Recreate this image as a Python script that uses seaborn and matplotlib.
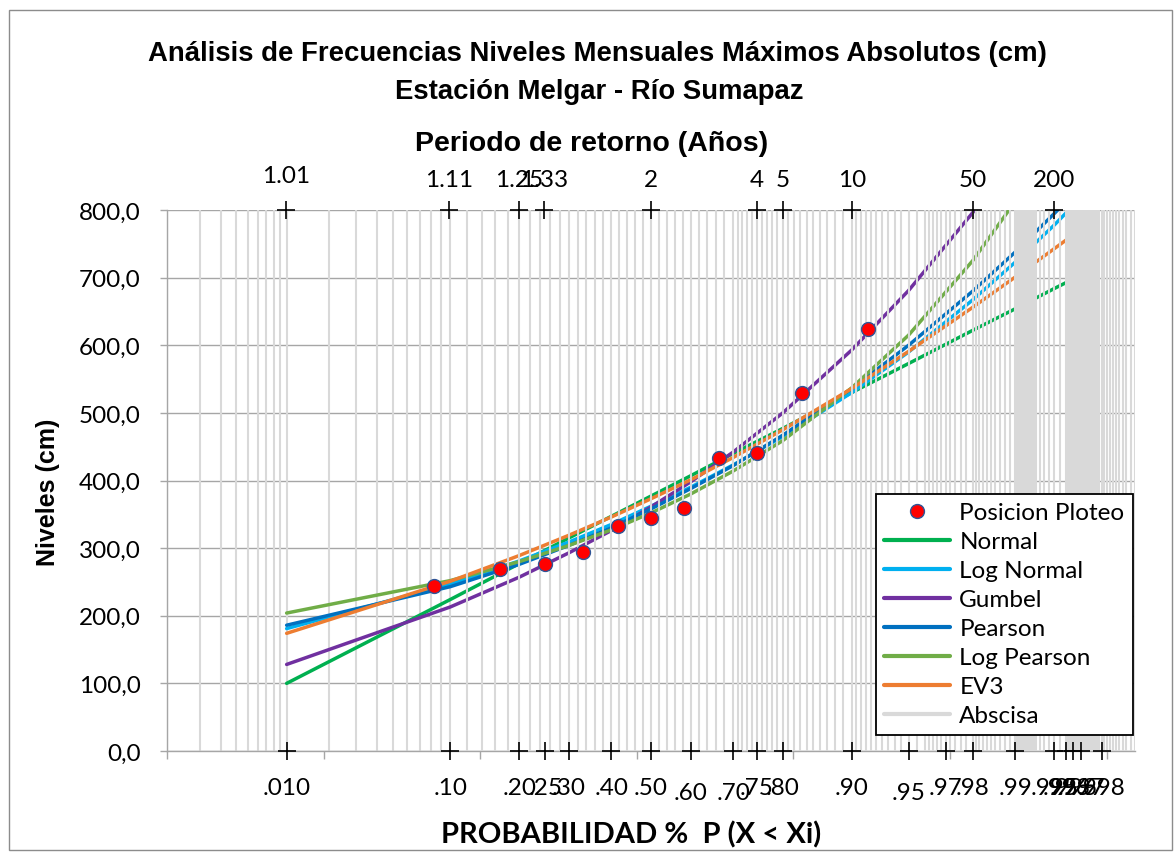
import numpy as np
import matplotlib
matplotlib.use("Agg")
import matplotlib.pyplot as plt
import seaborn as sns
from statistics import NormalDist
from matplotlib.lines import Line2D
from matplotlib.patches import Rectangle

# ---- data ----
# non-exceedance probabilities where the fitted curves were read
curve_p = [0.01, 0.1, 0.2, 0.3, 0.4, 0.5, 0.6, 0.7, 0.8, 0.9, 0.95, 0.98, 0.99, 0.995, 0.997]
normal = [100, 224, 277, 315, 347, 377, 407, 440, 477, 530, 573, 622, 654, 684, 704]
log_normal = [181, 247, 281, 309, 335, 362, 390, 423, 465, 530, 590, 667, 723, 778, 819]
gumbel = [128, 213, 257, 293, 326, 361, 398, 442, 500, 593, 681, 796, 882, 967, 1030]
pearson = [186, 243, 276, 304, 330, 358, 388, 422, 467, 536, 600, 680, 738, 795, 836]
log_pearson = [204, 252, 280, 304, 327, 352, 380, 414, 459, 537, 615, 725, 813, 906, 979]
ev3 = [174, 251, 289, 319, 346, 373, 401, 434, 475, 536, 591, 656, 701, 743, 772]

# plotting positions (Weibull) and observed levels
obs_p = [0.083, 0.167, 0.25, 0.333, 0.417, 0.5, 0.583, 0.667, 0.75, 0.833, 0.917]
obs_level = [244, 269, 277, 295, 333, 345, 359, 433, 441, 530, 624]

# return periods on the top axis
return_periods = [1.01, 1.11, 1.25, 1.33, 2, 4, 5, 10, 50, 200]
return_labels = ["1.01", "1.11", "1.25", "1.33", "2", "4", "5", "10", "50", "200"]

# probability labels on the bottom axis
prob_marks = [0.01, 0.10, 0.20, 0.25, 0.30, 0.40, 0.50, 0.60, 0.70, 0.75, 0.80,
              0.90, 0.95, 0.97, 0.98, 0.99, 0.995, 0.996, 0.9965, 0.997, 0.998]
prob_labels = [".010", ".10", ".20", ".25", ".30", ".40", ".50", ".60", ".70", ".75", ".80",
               ".90", ".95", ".97", ".98", ".99", ".995", ".996", ".996", ".997", ".998"]

# "Abscisa" vertical lines: (start, stop, step) ranges of probability
abscisa_low = [(0.001, 0.010, 0.001), (0.02, 0.10, 0.01)]
abscisa_high = [(0.12, 0.70, 0.02), (0.71, 0.90, 0.01), (0.905, 0.96, 0.005),
                (0.962, 0.98, 0.002), (0.981, 0.99, 0.001), (0.99025, 0.993, 0.00025),
                (0.9935, 0.996, 0.0005), (0.9961, 0.999, 0.0001)]

COLORS = {
    "Normal": "#00B050",
    "Log Normal": "#00B0F0",
    "Gumbel": "#7030A0",
    "Pearson": "#0070C0",
    "Log Pearson": "#70AD47",
    "EV3": "#ED7D31",
    "Abscisa": "#D9D9D9",
}
series = [("Normal", normal), ("Log Normal", log_normal), ("Gumbel", gumbel),
          ("Pearson", pearson), ("Log Pearson", log_pearson), ("EV3", ev3)]

W, H = 1174, 853


def fx(px):
    return px / W


def fy(py):
    return 1 - py / H


def ranges(spec):
    out = []
    for a, b, s in spec:
        n = int(round((b - a) / s))
        out.extend(a + s * np.arange(n + 1))
    return np.array(out)


nd = NormalDist()


def prob_fwd(p):
    p = np.clip(np.asarray(p, dtype=float), 1e-9, 1 - 1e-9)
    return np.array([nd.inv_cdf(v) if np.isfinite(v) else np.nan for v in p.ravel()]).reshape(p.shape)


def prob_inv(z):
    z = np.asarray(z, dtype=float)
    return np.array([nd.cdf(v) if np.isfinite(v) else np.nan for v in z.ravel()]).reshape(z.shape)


sns.set_theme(style="white")
plt.rcParams["font.family"] = ["Lato", "DejaVu Sans"]
plt.rcParams["text.color"] = "black"
plt.rcParams["ytick.color"] = "black"

fig = plt.figure(figsize=(W / 100, H / 100), dpi=100)
ax = fig.add_axes([fx(167), fy(752), fx(1135) - fx(167), fy(211) - fy(752)])
ax.set_xscale("function", functions=(prob_fwd, prob_inv))

# fitted curves
for name, vals in series:
    sns.lineplot(x=curve_p, y=vals, ax=ax, color=COLORS[name], lw=2.5,
                 sort=False, estimator=None, zorder=2)

# abscisa lines: the low ones sit under the curves, the rest over them
ax.vlines(ranges(abscisa_low), 0, 800, color=COLORS["Abscisa"], lw=1.5, zorder=1)
ax.vlines(ranges(abscisa_high), 0, 800, color=COLORS["Abscisa"], lw=1.5, zorder=3)

# observed points
sns.scatterplot(x=obs_p, y=obs_level, ax=ax, color="#FF0000", edgecolor="#2F5597",
                linewidth=1.0, s=100, zorder=5)

# return period markers (top) and probability markers (bottom)
top_p = [1 - 1 / t for t in return_periods]
ax.plot(top_p, [800] * len(top_p), "+", color="black", ms=13, mew=1.2, clip_on=False, zorder=6)
ax.plot(prob_marks, [0] * len(prob_marks), "+", color="black", ms=13, mew=1.2, clip_on=False, zorder=6)

btrans = ax.get_xaxis_transform()
for p, lab in zip(top_p, return_labels):
    y = 1.063 if lab == "1.01" else 1.057
    ax.text(p, y, lab, transform=btrans, ha="center", va="center", fontsize=17.5)
low = {".60", ".70", ".95"}
for p, lab in zip(prob_marks, prob_labels):
    y = -0.076 if lab in low else -0.068
    ax.text(p, y, lab, transform=btrans, ha="center", va="center", fontsize=17.5)

# axes
ax.set_xlim(0.001, 0.999)
ax.set_ylim(0, 800)
ax.set_yticks(range(0, 801, 100))
ax.set_yticklabels([f"{v},0" for v in range(0, 801, 100)], fontsize=17.5)
ax.set_xticks([nd.cdf(-3.0902 + k) for k in range(7)])
ax.set_xticklabels([])
ax.xaxis.set_minor_locator(matplotlib.ticker.NullLocator())
ax.tick_params(axis="x", direction="out", length=6, width=1, color="#A6A6A6", bottom=True)
ax.tick_params(axis="y", direction="out", length=5, width=1, color="#A6A6A6", left=True, pad=14)
ax.yaxis.grid(True, color="#A6A6A6", lw=1.0, zorder=0)
ax.xaxis.grid(False)
ax.set_axisbelow(True)
for side in ["top", "right"]:
    ax.spines[side].set_visible(False)
for side in ["left", "bottom"]:
    ax.spines[side].set_color("#A6A6A6")
    ax.spines[side].set_linewidth(1.0)
ax.set_xlabel("")
ax.set_ylabel("")

# legend
handles = [Line2D([], [], marker="o", ls="none", mfc="#FF0000", mec="#2F5597", ms=10)]
labels = ["Posicion Ploteo"]
for name, _ in series:
    handles.append(Line2D([], [], color=COLORS[name], lw=3))
    labels.append(name)
handles.append(Line2D([], [], color=COLORS["Abscisa"], lw=3))
labels.append("Abscisa")
leg = ax.legend(handles, labels, loc="lower right",
                bbox_to_anchor=((1133 - 167) / 968, (752 - 736) / 541),
                frameon=True, fancybox=False, framealpha=1, edgecolor="black",
                fontsize=17.5, handlelength=2.7, labelspacing=0.33, borderpad=0.35,
                handletextpad=0.4, borderaxespad=0)
leg.get_frame().set_linewidth(1.3)
leg.set_zorder(10)

# titles
tfont = ["Liberation Sans", "DejaVu Sans"]
fig.text(fx(597), fy(54), "Análisis de Frecuencias Niveles Mensuales Máximos Absolutos (cm)",
         ha="center", va="center", fontsize=19.8, fontweight="bold", family=tfont)
fig.text(fx(599), fy(92), "Estación Melgar - Río Sumapaz",
         ha="center", va="center", fontsize=19.8, fontweight="bold", family=tfont)
fig.text(fx(592), fy(144), "Periodo de retorno (Años)",
         ha="center", va="center", fontsize=20.5, fontweight="bold", family=tfont)
fig.text(fx(48), fy(492), "Niveles (cm)", rotation=90,
         ha="center", va="center", fontsize=18, fontweight="bold", family=tfont)
fig.text(fx(631), fy(835), "PROBABILIDAD %  P (X < Xi)",
         ha="center", va="center", fontsize=21, fontweight="bold")

# chart border
fig.patches.append(Rectangle((fx(9), fy(851)), fx(1172) - fx(9), fy(11) - fy(851),
                             transform=fig.transFigure, fill=False, ec="#8C8C8C", lw=1.0))

fig.savefig("out.png", dpi=100)
